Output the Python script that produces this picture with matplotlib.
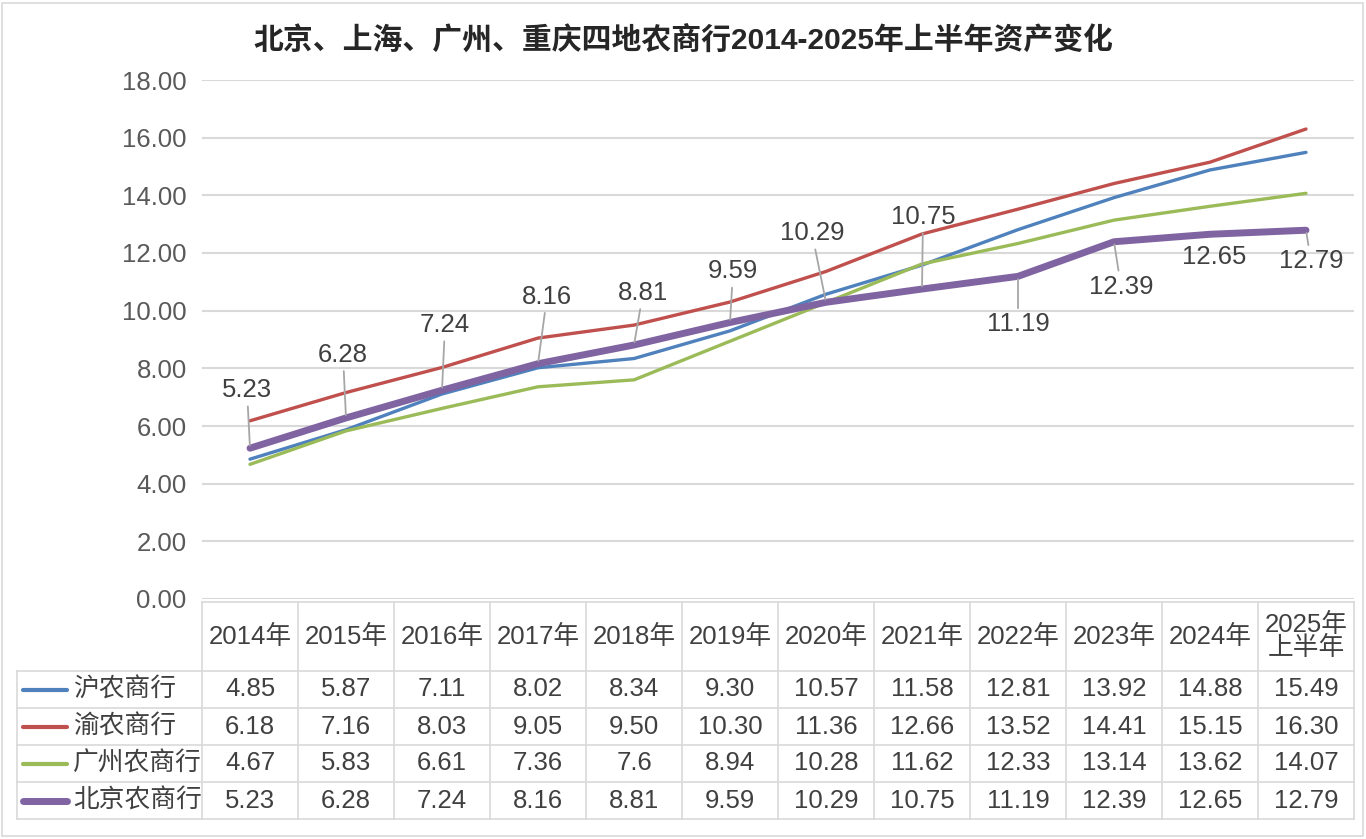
import matplotlib
matplotlib.use("Agg")
import matplotlib.pyplot as plt
from matplotlib.lines import Line2D
from matplotlib.patches import Rectangle

plt.rcParams["font.family"] = ["Liberation Sans", "Noto Sans CJK SC", "DejaVu Sans"]

# ── data ──────────────────────────────────────────────
categories = ["2014年", "2015年", "2016年", "2017年", "2018年", "2019年",
              "2020年", "2021年", "2022年", "2023年", "2024年", "2025年\n上半年"]
series_names = ["沪农商行", "渝农商行", "广州农商行", "北京农商行"]
hu = [4.85, 5.87, 7.11, 8.02, 8.34, 9.30, 10.57, 11.58, 12.81, 13.92, 14.88, 15.49]
yu = [6.18, 7.16, 8.03, 9.05, 9.50, 10.30, 11.36, 12.66, 13.52, 14.41, 15.15, 16.30]
gz = [4.67, 5.83, 6.61, 7.36, 7.6, 8.94, 10.28, 11.62, 12.33, 13.14, 13.62, 14.07]
bj = [5.23, 6.28, 7.24, 8.16, 8.81, 9.59, 10.29, 10.75, 11.19, 12.39, 12.65, 12.79]
table_text = [
    ["4.85", "5.87", "7.11", "8.02", "8.34", "9.30", "10.57", "11.58", "12.81", "13.92", "14.88", "15.49"],
    ["6.18", "7.16", "8.03", "9.05", "9.50", "10.30", "11.36", "12.66", "13.52", "14.41", "15.15", "16.30"],
    ["4.67", "5.83", "6.61", "7.36", "7.6", "8.94", "10.28", "11.62", "12.33", "13.14", "13.62", "14.07"],
    ["5.23", "6.28", "7.24", "8.16", "8.81", "9.59", "10.29", "10.75", "11.19", "12.39", "12.65", "12.79"],
]
yticks = [0, 2, 4, 6, 8, 10, 12, 14, 16, 18]

# label offsets for the 北京 series (pixels, relative to point)
label_offsets = [(-3, 58), (-3, 63), (3, 65), (9, 67), (9, 52), (3, 51),
                 (-14, 69), (1, 72), (0, -48), (7, -45), (4, -23), (5, -31)]

colors = ["#4F81BD", "#C0504D", "#9BBB59", "#8064A2"]
widths = [2.4, 2.4, 2.4, 5.0]
text_c = "#404040"
grid_c = "#D9D9D9"
fs = 18.5

W, H = 1366, 839
fig = plt.figure(figsize=(W / 100, H / 100), dpi=100)

# outer frame
fig.patches.append(Rectangle((2 / W, 3 / H), 1361 / W, 833 / H, transform=fig.transFigure,
                             fill=False, edgecolor=grid_c, linewidth=1.2))

ax_l, ax_r, ax_top, ax_bot = 202, 1354, 80, 599
ax = fig.add_axes([ax_l / W, (H - ax_bot) / H, (ax_r - ax_l) / W, (ax_bot - ax_top) / H])
ax.set_xlim(-0.5, len(categories) - 0.5)
ax.set_ylim(0, 18)
ax.set_yticks(yticks)
ax.set_yticklabels([f"{t:.2f}" for t in yticks], fontsize=fs, color="#595959")
ax.tick_params(axis="y", length=0, pad=11)
ax.set_xticks([])
for s in ax.spines.values():
    s.set_visible(False)
ax.grid(axis="y", color=grid_c, linewidth=1.5)
ax.set_axisbelow(True)

x = list(range(len(categories)))
for vals, c, lw in zip([hu, yu, gz, bj], colors, widths):
    ax.plot(x, vals, color=c, linewidth=lw, solid_capstyle="round", solid_joinstyle="round", zorder=3)

for i, (v, (dx, dy)) in enumerate(zip(bj, label_offsets)):
    arrow = None if i == 10 else dict(arrowstyle="-", color="#A6A6A6", linewidth=1.3,
                                      shrinkA=1, shrinkB=2)
    ax.annotate(f"{v:.2f}", xy=(i, v), xytext=(dx, dy), textcoords="offset pixels",
                ha="center", va="center", fontsize=fs, color=text_c,
                arrowprops=arrow, zorder=5, annotation_clip=False)

fig.text(0.5, 1 - 40 / H, "北京、上海、广州、重庆四地农商行2014-2025年上半年资产变化",
         ha="center", va="center", fontsize=21.5, fontweight="bold", color="#262626")

# ── data table ───────────────────────────────────────
tab = fig.add_axes([0, 0, 1, 1])
tab.set_xlim(0, W)
tab.set_ylim(H, 0)
tab.axis("off")

col_w = (ax_r - ax_l) / len(categories)
head_top, head_bot = 602, 671
row_h = 37
leg_l = 17
n_rows = len(series_names)
tab_bot = head_bot + n_rows * row_h
lc = dict(color=grid_c, linewidth=1.2)

# header row
tab.plot([ax_l, ax_r], [head_top, head_top], **lc)
for j in range(len(categories) + 1):
    xx = ax_l + j * col_w
    tab.plot([xx, xx], [head_top, tab_bot], **lc)
for j, cat in enumerate(categories):
    tab.text(ax_l + (j + 0.5) * col_w, (head_top + head_bot) / 2, cat, ha="center", va="center",
             fontsize=fs, color=text_c, linespacing=0.95)
# body rows
for r in range(n_rows + 1):
    yy = head_bot + r * row_h
    tab.plot([leg_l, ax_r], [yy, yy], **lc)
tab.plot([leg_l, leg_l], [head_bot, tab_bot], **lc)
for r, (name, c, lw) in enumerate(zip(series_names, colors, widths)):
    yc = head_bot + (r + 0.5) * row_h
    tab.add_line(Line2D([23, 67], [yc, yc], color=c, linewidth=lw if r == 3 else 3.0,
                        solid_capstyle="round"))
    tab.text(73, yc, name, ha="left", va="center", fontsize=fs, color=text_c)
    for j, s in enumerate(table_text[r]):
        tab.text(ax_l + (j + 0.5) * col_w, yc, s, ha="center", va="center", fontsize=fs, color=text_c)

fig.savefig("out.png", dpi=100)
